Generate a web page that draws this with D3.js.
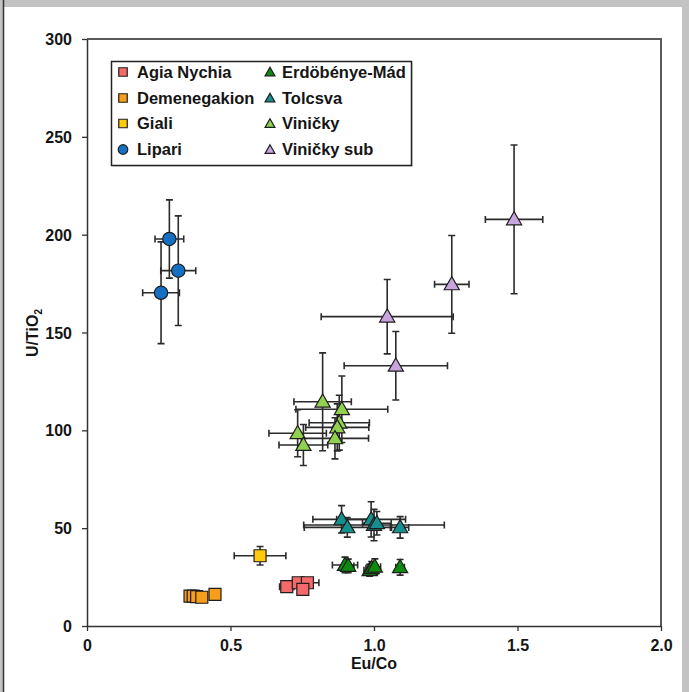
<!DOCTYPE html>
<html><head><meta charset="utf-8">
<script src="https://cdn.jsdelivr.net/npm/d3@7"></script>
<style>
html,body{margin:0;padding:0;background:#fff;}
svg{display:block;font-family:"Liberation Sans",Arial,sans-serif;}
</style></head>
<body>
<svg id="c" width="689" height="692"></svg>
<script>
// [x, y, xErr, yErr]
const agiaNychia = [[0.696,20.1,0.025,2],[0.736,22.1,0.02,2],[0.768,22.1,0.04,2],[0.752,18.7,0.015,2]];
const demenegakion = [[0.359,15.3,0.005,1],[0.370,15.3,0.005,1.5],[0.382,15.0,0.01,1],[0.400,14.7,0.01,1],[0.446,16.2,0.01,1]];
const giali = [[0.603,35.9,0.09,4.7]];
const lipari = [[0.287,197.8,0.05,20],[0.318,181.6,0.061,28],[0.258,170.3,0.064,26]];
const erdobenye = [[0.899,31.2,0.044,4],[0.910,30.7,0.02,3.5],[0.985,28.5,0.02,3],[0.992,29.5,0.02,3.5],[1.003,30.3,0.02,4],[1.091,30.0,0.015,4]];
const tolcsva = [[0.887,54.5,0.10,7],[0.907,50.4,0.15,5],[0.990,54.5,0.12,9],[1.000,51.6,0.245,8],[1.010,52.5,0.05,6],[1.091,50.4,0.03,5.5]];
const vinicky = [[0.821,114.6,0.10,25],[0.888,110.8,0.16,17],[0.879,103.9,0.105,14],[0.872,101.5,0.11,12],[0.864,95.9,0.117,10.5],[0.734,98.5,0.10,12],[0.754,92.5,0.085,10.5]];
const vinickySub = [[1.488,207.8,0.10,38],[1.271,174.6,0.06,25],[1.046,158.1,0.23,19],[1.076,133.0,0.18,17.5]];

const seriesNames = ["Agia Nychia","Demenegakion","Giali","Lipari","Erdöbénye-Mád","Tolcsva","Viničky","Viničky sub"];
const seriesData = [agiaNychia,demenegakion,giali,lipari,erdobenye,tolcsva,vinicky,vinickySub];
const seriesColors = ["#F46A6C","#F89D1C","#FFC90E","#1570C4","#0E8A10","#16908E","#92D050","#C8A5DC"];
const seriesShapes = ["square","square","square","circle","triangle","triangle","triangle","triangle"];
const xTicks = [0,0.5,1.0,1.5,2.0];
const xTickLabels = ["0","0.5","1.0","1.5","2.0"];
const yTicks = [0,50,100,150,200,250,300];

const svg = d3.select("#c");
const L=87, R=661, T=39, B=626;
const x = d3.scaleLinear().domain([0,2]).range([L,R]);
const y = d3.scaleLinear().domain([0,300]).range([B,T]);

// figure frame
svg.append("rect").attr("x",0).attr("y",0).attr("width",689).attr("height",7).attr("fill","#c3c3c3");
svg.append("rect").attr("x",682).attr("y",0).attr("width",7).attr("height",692).attr("fill","#c3c3c3");
svg.append("rect").attr("x",0).attr("y",0).attr("width",3).attr("height",692).attr("fill","#c3c3c3");
svg.append("line").attr("x1",3.5).attr("x2",3.5).attr("y1",0).attr("y2",692).attr("stroke","#333").attr("stroke-width",1.5);

// plot border top/right
svg.append("path").attr("d",`M${L},${T}H${R}V${B}`).attr("fill","none").attr("stroke","#5a5a5a").attr("stroke-width",2);

// axes
const xAxis = d3.axisBottom(x).tickValues(xTicks).tickFormat((d,i)=>xTickLabels[i]).tickSize(5).tickSizeOuter(0);
const yAxis = d3.axisLeft(y).tickValues(yTicks).tickFormat(d3.format("d")).tickSize(5).tickSizeOuter(0);
const gx = svg.append("g").attr("transform",`translate(0,${B})`).call(xAxis);
const gy = svg.append("g").attr("transform",`translate(${L},0)`).call(yAxis);
[gx,gy].forEach(g=>{
  g.select(".domain").attr("stroke","#333").attr("stroke-width",1.5);
  g.selectAll(".tick line").attr("stroke","#333").attr("stroke-width",1.3);
  g.selectAll(".tick text").attr("font-size","16px").attr("font-weight","bold").attr("fill","#151515")
   .attr("font-family","'Liberation Sans',Arial,sans-serif");
});
gx.selectAll(".tick text").attr("dy","0").attr("y",25);
gy.selectAll(".tick text").attr("x",-15).attr("dy","0.35em");

// axis titles
svg.append("text").attr("x",374).attr("y",669).attr("text-anchor","middle")
  .attr("font-size","16px").attr("font-weight","bold").attr("fill","#151515").text("Eu/Co");
const yt = svg.append("text").attr("transform","translate(38,333) rotate(-90)").attr("text-anchor","middle")
  .attr("font-size","16px").attr("font-weight","bold").attr("fill","#151515");
yt.append("tspan").text("U/TiO");
yt.append("tspan").attr("font-size","10px").attr("dy","4").text("2");

function symType(s){return s==="square"?d3.symbolSquare:s==="circle"?d3.symbolCircle:d3.symbolTriangle;}
function symSize(s){return s==="square"?144:s==="circle"?140:100;}
function symLegendSize(s){return s==="square"?72:s==="circle"?72:42;}

const plot = svg.append("g");
const cap = 3.5;
seriesData.forEach((data,si)=>{
  const g = plot.append("g");
  data.forEach(d=>{
    const cx=x(d[0]), cy=y(d[1]);
    const x0=x(d[0]-d[2]), x1=x(d[0]+d[2]), y0=y(d[1]-d[3]), y1=y(d[1]+d[3]);
    const p = `M${x0},${cy}H${x1}M${x0},${cy-cap}V${cy+cap}M${x1},${cy-cap}V${cy+cap}`+
              `M${cx},${y0}V${y1}M${cx-cap},${y0}H${cx+cap}M${cx-cap},${y1}H${cx+cap}`;
    g.append("path").attr("d",p).attr("fill","none").attr("stroke","#2b2b2b").attr("stroke-width",1.6);
  });
  const sh = seriesShapes[si];
  const sym = d3.symbol().type(symType(sh)).size(symSize(sh));
  g.selectAll(".m").data(data).enter().append("path")
    .attr("d",sym)
    .attr("transform",d=>`translate(${x(d[0])},${y(d[1])+(sh==="triangle"?1:0)})`)
    .attr("fill",seriesColors[si]).attr("stroke","#1e1e1e").attr("stroke-width",1.2);
});

// legend
const lg = svg.append("g");
lg.append("rect").attr("x",113).attr("y",63).attr("width",300).attr("height",104).attr("fill","#d0d0d0").attr("opacity",0.6);
lg.append("rect").attr("x",111.5).attr("y",61.5).attr("width",300).attr("height",104).attr("fill","#fff").attr("stroke","#222").attr("stroke-width",1.5);
const rowY=[72,98,123.5,149.5];
seriesNames.forEach((n,i)=>{
  const col = i<4?0:1, row=i%4;
  const mx = col===0?123:270, tx = col===0?137:282;
  const sh=seriesShapes[i];
  lg.append("path").attr("d",d3.symbol().type(symType(sh)).size(symLegendSize(sh)))
    .attr("transform",`translate(${mx},${rowY[row]+(sh==="triangle"?1:0)})`)
    .attr("fill",seriesColors[i]).attr("stroke","#1e1e1e").attr("stroke-width",1.2);
  lg.append("text").attr("x",tx).attr("y",rowY[row]).attr("dy","0.36em")
    .attr("font-size","16.5px").attr("font-weight","bold").attr("fill","#151515").text(n);
});
</script>
</body></html>
